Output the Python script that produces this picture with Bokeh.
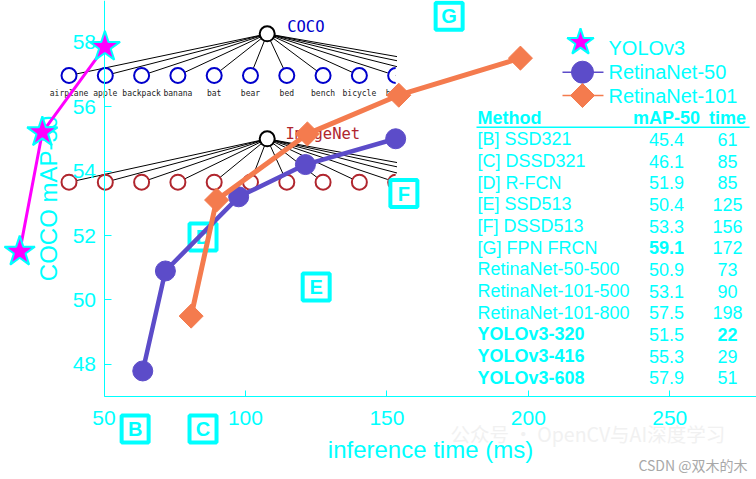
import numpy as np
from bokeh.plotting import figure
from bokeh.models import Range1d, LinearAxis, FixedTicker, ColumnDataSource
from bokeh.core.properties import value
from bokeh.embed import file_html
from bokeh.resources import INLINE

# ---------------- data ----------------
yolo_time = [20.2, 28.2, 50.3]
yolo_map = [51.5, 55.2, 57.85]
rn50_time = [63.7, 71.7, 97.6, 121.2, 153.1]
rn50_map = [47.8, 50.9, 53.2, 54.2, 55.0]
rn101_time = [80.8, 89.8, 121.9, 154.2, 197.2]
rn101_map = [49.5, 53.1, 55.15, 56.35, 57.5]

series_names = ["YOLOv3", "RetinaNet-50", "RetinaNet-101"]

letters = ["B", "C", "D", "E", "F", "G"]
letter_time = [61, 85, 85, 125, 156, 172]
letter_map = [46.0, 46.0, 51.95, 50.4, 53.3, 58.8]

table_methods = ["[B] SSD321", "[C] DSSD321", "[D] R-FCN", "[E] SSD513", "[F] DSSD513",
                 "[G] FPN FRCN", "RetinaNet-50-500", "RetinaNet-101-500", "RetinaNet-101-800",
                 "YOLOv3-320", "YOLOv3-416", "YOLOv3-608"]
table_map = ["45.4", "46.1", "51.9", "50.4", "53.3", "59.1", "50.9", "53.1", "57.5", "51.5", "55.3", "57.9"]
table_time = ["61", "85", "85", "125", "156", "172", "73", "90", "198", "22", "29", "51"]
bold_method = [False] * 9 + [True] * 3
bold_map = [False] * 5 + [True] + [False] * 6
bold_time = [False] * 9 + [True] + [False] * 2

x_ticks = [50, 100, 150, 200, 250]
y_ticks = [48, 50, 52, 54, 56, 58]

coco_classes = ["airplane", "apple", "backpack", "banana", "bat", "bear", "bed", "bench", "bicycle", "b"]

# ---------------- styles ----------------
CYAN = "#00FFFF"
MAGENTA = "#FF00FF"
PURPLE = "#5C4CC9"
ORANGE = "#F47B4E"
FONT = "Liberation Sans"
MONO = "DejaVu Sans Mono"

p = figure(width=756, height=479,
           x_range=Range1d(13.41, 280.65), y_range=Range1d(44.434, 59.287),
           x_axis_location=None, y_axis_location=None,
           toolbar_location=None, output_backend="svg", min_border=0)
p.outline_line_color = None
p.grid.grid_line_color = None
p.background_fill_color = "white"
p.border_fill_color = "white"

# ---------------- axes ----------------
xaxis = LinearAxis(fixed_location=47, bounds=(50, 281), ticker=FixedTicker(ticks=x_ticks),
                   axis_label="inference time (ms)")
yaxis = LinearAxis(fixed_location=50, bounds=(47, 59.66), ticker=FixedTicker(ticks=y_ticks),
                   axis_label="COCO mAP-50")
for ax in (xaxis, yaxis):
    ax.axis_line_color = CYAN
    ax.axis_line_width = 1
    ax.major_tick_line_color = CYAN
    ax.major_tick_out = 0
    ax.minor_tick_line_color = None
    ax.major_label_text_color = CYAN
    ax.major_label_text_font = FONT
    ax.major_label_text_font_size = "21px"
    ax.axis_label_text_color = CYAN
    ax.axis_label_text_font = FONT
    ax.axis_label_text_font_size = "24px"
    ax.axis_label_text_font_style = "normal"
xaxis.major_tick_in = 6
yaxis.major_tick_in = 7
xaxis.major_label_standoff = 14
yaxis.major_label_standoff = 8
xaxis.axis_label_standoff = 8
yaxis.axis_label_standoff = 8
p.add_layout(xaxis, "below")
p.add_layout(yaxis, "left")

# ---------------- watermark ----------------
p.text([172.5], [45.86], text=["公众号 · OpenCV与AI深度学习"], text_font=value("Noto Sans CJK SC"),
       text_font_size="19.5px", text_color="#F1F1F1", text_baseline="middle", text_align="left")

# ---------------- tree overlays ----------------
root_x = 107.69
child_x0, child_dx = 37.63, 12.83
clip_x = 153.57
n_child = 13
cx_all = child_x0 + child_dx * np.arange(n_child)
trees = [
    (58.254, 56.961, "#0000CC", "COCO", 58.468, 114.76),
    (54.998, 53.653, "#B0262E", "ImageNet", 55.153, 114.16),
]
for ry, cy, col, name, ty, tx in trees:
    x1 = np.minimum(cx_all, clip_x)
    y1 = ry + (cy - ry) * (x1 - root_x) / (cx_all - root_x)
    p.segment(x0=[root_x] * n_child, y0=[ry] * n_child, x1=list(x1), y1=list(y1),
              line_color="black", line_width=1)
    p.scatter(list(cx_all[:9]), [cy] * 9, marker="circle", size=15, fill_color="white",
              line_color=col, line_width=2)
    p.wedge([cx_all[9]], [cy], radius=8.5, radius_units="screen", start_angle=np.pi / 2,
            end_angle=3 * np.pi / 2, fill_color="white", line_color=None)
    p.arc([cx_all[9]], [cy], radius=7.5, radius_units="screen", start_angle=np.pi / 2,
          end_angle=3 * np.pi / 2, line_color=col, line_width=2)
    p.scatter([root_x], [ry], marker="circle", size=15, fill_color="white",
              line_color="black", line_width=2)
    p.text([tx], [ty], text=[name], text_font=value(MONO), text_font_size="15.5px",
           text_color=col, text_baseline="middle", text_align="left")

p.text(list(cx_all[:9]), [56.412] * 9, text=coco_classes[:9], text_font=value(MONO),
       text_font_size="8px", text_color="#222222", text_baseline="middle", text_align="center")
p.text([cx_all[9] - 3.5], [56.412], text=coco_classes[9:], text_font=value(MONO),
       text_font_size="8px", text_color="#222222", text_baseline="middle", text_align="left")

# ---------------- letter boxes ----------------
p.scatter(letter_time, letter_map, marker="square", size=27, fill_color="white",
          line_color=CYAN, line_width=4)
p.text(letter_time, letter_map, text=letters, text_font=value(FONT), text_font_style="bold",
       text_font_size="20px", text_color=CYAN, text_align="center", text_baseline="middle")

# ---------------- series ----------------
p.line(rn50_time, rn50_map, line_color=PURPLE, line_width=4.5)
p.scatter(rn50_time, rn50_map, marker="circle", size=20, fill_color=PURPLE, line_color=PURPLE)
p.line(rn101_time, rn101_map, line_color=ORANGE, line_width=5)
p.scatter(rn101_time, rn101_map, marker="square", angle=np.pi / 4, size=17,
          fill_color=ORANGE, line_color=ORANGE)
r_yl = p.line(yolo_time, yolo_map, line_color=MAGENTA, line_width=3)
r_ys = p.scatter(yolo_time, yolo_map, marker="star", size=32, fill_color=MAGENTA,
                 line_color=CYAN, line_width=2)
r_yl.level = "overlay"
r_ys.level = "overlay"

# ---------------- table ----------------
tx_method, tx_map, tx_time = 182.03, 248.83, 270.39
head_y, row0_y, row_dy = 55.659, 54.977, 0.6716
p.text([tx_method], [head_y], text=["Method"], text_font=value(FONT), text_font_style="bold",
       text_font_size="18px", text_color=CYAN, text_align="left", text_baseline="middle")
p.text([tx_map, tx_time], [head_y, head_y], text=["mAP-50", "time"], text_font=value(FONT),
       text_font_style="bold", text_font_size="18px", text_color=CYAN, text_align="center",
       text_baseline="middle")
p.segment(x0=[181.67], y0=[55.358], x1=[278.2], y1=[55.358], line_color=CYAN, line_width=1.5)

def table_col(vals, bolds, x, align):
    for b in (False, True):
        idx = [i for i in range(len(vals)) if bolds[i] == b]
        if not idx:
            continue
        src = ColumnDataSource(dict(x=[x] * len(idx), y=[row0_y - i * row_dy for i in idx],
                                    t=[vals[i] for i in idx]))
        p.text("x", "y", text="t", source=src, text_font=value(FONT),
               text_font_style="bold" if b else "normal", text_font_size="18px",
               text_color=CYAN, text_align=align, text_baseline="middle")

table_col(table_methods, bold_method, tx_method, "left")
table_col(table_map, bold_map, tx_map, "center")
table_col(table_time, bold_time, tx_time, "center")

# ---------------- legend (drawn as a key in the upper right) ----------------
lg_x0, lg_x1, lg_xm, lg_tx = 212.07, 226.56, 219.14, 228.33
lg_rows = [57.92, 57.064, 56.341]
lg_text_y = [57.814, 57.064, 56.326]
p.scatter([lg_xm - 0.7], [lg_rows[0] + 0.07], marker="star", size=28, fill_color=MAGENTA,
          line_color=CYAN, line_width=2)
p.segment(x0=[lg_x0], y0=[lg_rows[1]], x1=[lg_x1], y1=[lg_rows[1]], line_color=PURPLE, line_width=1.5)
p.scatter([lg_xm], [lg_rows[1]], marker="circle", size=22, fill_color=PURPLE, line_color=PURPLE)
p.segment(x0=[lg_x0], y0=[lg_rows[2]], x1=[lg_x1], y1=[lg_rows[2]], line_color=ORANGE, line_width=1.5)
p.scatter([lg_xm], [lg_rows[2]], marker="square", angle=np.pi / 4, size=17,
          fill_color=ORANGE, line_color=ORANGE)
p.text([lg_tx] * 3, lg_text_y, text=series_names, text_font=value(FONT), text_font_size="20px",
       text_color=CYAN, text_align="left", text_baseline="middle")

# ---------------- credit ----------------
p.text([238.9], [44.87], text=["CSDN @双木的木"], text_font=value("Noto Sans CJK SC"),
       text_font_size="14px", text_color="#A8A8A8", text_baseline="middle", text_align="left")

open("out.html", "w").write(file_html(p, INLINE))
